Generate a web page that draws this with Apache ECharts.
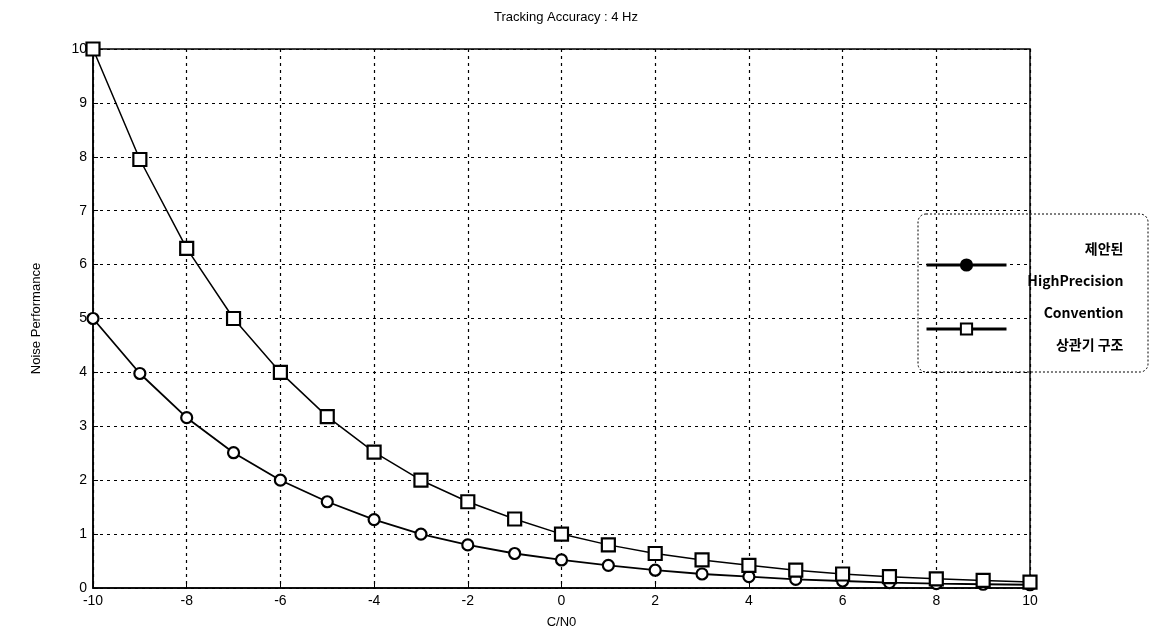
<!DOCTYPE html>
<html>
<head>
<meta charset="utf-8">
<script src="https://cdn.jsdelivr.net/npm/echarts@6/dist/echarts.min.js"></script>
<style>
html, body { margin: 0; padding: 0; background: #fff; }
#chart { width: 1156px; height: 634px; }
</style>
</head>
<body>
<div id="chart"></div>
<script>
var cn0 = [-10, -9, -8, -7, -6, -5, -4, -3, -2, -1, 0, 1, 2, 3, 4, 5, 6, 7, 8, 9, 10];
var highPrecision = [5.0, 3.98, 3.16, 2.51, 2.0, 1.6, 1.27, 1.0, 0.8, 0.64, 0.52, 0.42, 0.33, 0.26, 0.21, 0.16, 0.13, 0.1, 0.08, 0.07, 0.06];
var convention = [10.0, 7.95, 6.3, 5.0, 4.0, 3.18, 2.52, 2.0, 1.6, 1.28, 1.0, 0.8, 0.64, 0.52, 0.42, 0.33, 0.26, 0.21, 0.17, 0.14, 0.11];
var seriesNames = ['제안된\nHighPrecision', 'Convention\n상관기 구조'];
var chartTitle = 'Tracking Accuracy : 4 Hz';
var xName = 'C/N0';
var yName = 'Noise Performance';

function pairs(ys) {
    return ys.map((v, i) => [cn0[i], v]);
}

var chart = echarts.init(document.getElementById('chart'));
var font = 'Liberation Sans, Arial, sans-serif';

var option = {
    animation: false,
    backgroundColor: '#fff',
    title: {
        text: chartTitle,
        left: 561,
        textAlign: 'center',
        top: 6,
        textStyle: { fontFamily: font, fontSize: 13, fontWeight: 'normal', color: '#000' }
    },
    grid: {
        left: 93, right: 126, top: 49, bottom: 46,
        show: true, borderColor: '#000', borderWidth: 1.5
    },
    legend: {
        orient: 'vertical',
        left: 920,
        top: 237,
        itemWidth: 80,
        itemHeight: 14,
        itemGap: 18,
        data: [
            { name: seriesNames[0], itemStyle: { color: '#000' } },
            { name: seriesNames[1] }
        ],
        lineStyle: { width: 3 },
        // 右对齐两行图例文字
        formatter: name => name.split('\n').map(s => '{r|' + s + '}').join('\n'),
        textStyle: {
            fontFamily: '"Noto Sans CJK KR", sans-serif',
            fontSize: 14, fontWeight: 'bold', color: '#000',
            rich: {
                r: {
                    fontFamily: '"Noto Sans CJK KR", sans-serif',
                    fontSize: 14, fontWeight: 'bold', color: '#000',
                    width: 112, align: 'right', lineHeight: 32
                }
            }
        }
    },
    graphic: [{
        type: 'rect',
        shape: { x: 918, y: 214, width: 230, height: 158, r: 8 },
        style: { fill: 'rgba(255,255,255,0)', stroke: '#000', lineWidth: 1, lineDash: [2, 2] },
        z: 1
    }],
    xAxis: {
        type: 'value',
        min: -10, max: 10, interval: 2,
        name: xName,
        nameLocation: 'middle',
        nameGap: 28,
        nameTextStyle: { fontFamily: font, fontSize: 13, color: '#000' },
        axisLine: { onZero: false, lineStyle: { color: '#000', width: 1.5 } },
        axisTick: { inside: true, length: 5, lineStyle: { color: '#000' } },
        axisLabel: { fontFamily: font, fontSize: 14, color: '#000', margin: 6 },
        splitLine: { show: true, lineStyle: { color: '#000', type: [3, 4], width: 1.2 } }
    },
    yAxis: {
        type: 'value',
        min: 0, max: 10, interval: 1,
        name: yName,
        nameLocation: 'middle',
        nameGap: 50,
        nameTextStyle: { fontFamily: font, fontSize: 13, color: '#000' },
        axisLine: { show: true, onZero: false, lineStyle: { color: '#000', width: 1.5 } },
        axisTick: { inside: true, length: 5, lineStyle: { color: '#000' } },
        axisLabel: { fontFamily: font, fontSize: 14, color: '#000', margin: 6 },
        splitLine: { show: true, lineStyle: { color: '#000', type: [3, 4], width: 1.2 } }
    },
    series: [
        {
            name: seriesNames[0],
            type: 'line',
            data: pairs(highPrecision),
            symbol: 'circle',
            symbolSize: 11,
            lineStyle: { color: '#000', width: 1.8 },
            itemStyle: { color: '#fff', borderColor: '#000', borderWidth: 2.2 }
        },
        {
            name: seriesNames[1],
            type: 'line',
            data: pairs(convention),
            symbol: 'rect',
            symbolSize: 13,
            lineStyle: { color: '#000', width: 1.5 },
            itemStyle: { color: '#fff', borderColor: '#000', borderWidth: 2.2 }
        }
    ]
};

chart.setOption(option);
</script>
</body>
</html>
